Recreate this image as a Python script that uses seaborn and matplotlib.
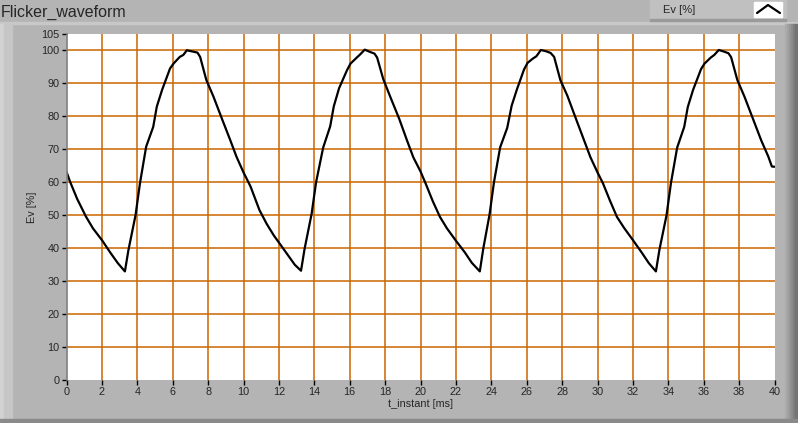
import numpy as np
import pandas as pd
import matplotlib
matplotlib.use("Agg")
import matplotlib.pyplot as plt
import matplotlib.patches as mpatches
from matplotlib.lines import Line2D
import seaborn as sns

# waveform, four periods of ~10 ms
t_ms = [0.0, 0.2, 0.6, 1.1, 1.5, 2.0, 2.5, 2.9, 3.3, 3.5, 3.9, 4.15, 4.5, 4.9, 5.1, 5.4, 5.85, 6.05, 6.4, 6.6, 6.8, 7.15, 7.4, 7.55, 7.9, 8.3, 8.8, 9.25, 9.6,
        10.0, 10.4, 10.9, 11.3, 11.7, 12.1, 12.5, 12.9, 13.25, 13.45, 13.85, 14.1, 14.5, 14.9, 15.1, 15.4, 15.85, 16.05, 16.4, 16.6, 16.85, 17.15, 17.4, 17.55, 17.9, 18.3, 18.8, 19.25, 19.6,
        20.0, 20.3, 20.7, 21.1, 21.5, 22.0, 22.5, 22.9, 23.35, 23.55, 23.9, 24.15, 24.5, 24.9, 25.15, 25.45, 25.85, 26.05, 26.35, 26.55, 26.8, 27.1, 27.35, 27.55, 27.9, 28.3, 28.8, 29.25, 29.6,
        30.0, 30.3, 30.7, 31.1, 31.5, 32.0, 32.5, 32.9, 33.3, 33.5, 33.9, 34.15, 34.5, 34.9, 35.1, 35.4, 35.85, 36.05, 36.4, 36.6, 36.85, 37.15, 37.4, 37.55, 37.9, 38.3, 38.8, 39.25, 39.65, 39.85, 40.0]
ev_pct = [63.2, 60.2, 55.0, 49.6, 46.0, 42.5, 38.5, 35.5, 33.0, 39.5, 50.0, 59.7, 70.8, 76.8, 82.9, 88.0, 94.5, 96.0, 98.0, 98.6, 100.0, 99.6, 99.3, 98.0, 91.0, 86.0, 79.0, 72.8, 67.8,
          63.0, 58.7, 51.6, 47.5, 44.0, 41.0, 38.0, 35.0, 33.2, 39.8, 50.5, 60.0, 70.5, 77.0, 83.0, 88.5, 94.0, 96.0, 97.8, 98.8, 100.2, 99.5, 99.0, 97.8, 91.2, 85.8, 79.2, 72.5, 67.5,
          63.3, 59.5, 54.2, 49.5, 46.0, 42.3, 38.8, 35.6, 33.0, 40.0, 50.2, 60.0, 70.6, 76.5, 83.2, 88.2, 94.2, 96.2, 97.5, 98.2, 100.1, 99.7, 99.2, 98.0, 91.0, 86.2, 79.0, 72.6, 67.6,
          63.0, 59.8, 54.5, 49.5, 46.2, 42.5, 38.7, 35.5, 33.0, 39.6, 50.0, 59.8, 70.5, 76.8, 82.8, 88.0, 94.3, 96.0, 97.8, 98.6, 100.1, 99.6, 99.1, 97.9, 91.0, 86.0, 79.0, 72.7, 67.8, 64.8, 64.7]

x_ticks = list(range(0, 41, 2))
y_ticks = [0, 10, 20, 30, 40, 50, 60, 70, 80, 90, 100, 105]

df = pd.DataFrame({"t_instant [ms]": t_ms, "Ev [%]": ev_pct})

sns.set_style("white")
plt.rcParams["font.family"] = ["Liberation Sans", "DejaVu Sans"]

W, H = 798, 423
fig = plt.figure(figsize=(W / 100, H / 100), dpi=100)
fig.patch.set_facecolor("#b4b4b4")

# panel decoration (LabVIEW-like frame)
def px_rect(x0, y0, x1, y1, color):
    fig.patches.append(mpatches.Rectangle((x0 / W, 1 - y1 / H), (x1 - x0) / W, (y1 - y0) / H,
                                          transform=fig.transFigure, color=color, zorder=0))

px_rect(0, 22, W, 24, "#c8c8c8")
px_rect(0, 24, 4, H, "#d2d2d2")
px_rect(4, 24, 12, H, "#c6c6c6")
for i, c in enumerate(["#acacac", "#a2a2a2", "#989898", "#8c8c8c", "#808080", "#747474"]):
    px_rect(785 + i * 2, 24, 787 + i * 2, H, c)
px_rect(0, 419, W, H, "#8a8a8a")
# legend box
px_rect(650, 0, 786, 20, "#c0c0c0")
px_rect(650, 19, 786, 21, "#9a9a9a")
px_rect(754, 2, 782, 17, "white")

ax = fig.add_axes([66.5 / W, 1 - 380.3 / H, 708 / W, (380.3 - 33.8) / H])
ax.set_facecolor("white")

sns.lineplot(data=df, x="t_instant [ms]", y="Ev [%]", ax=ax, color="black", lw=1.6, sort=False)

ax.set_xlim(0, 40)
ax.set_ylim(0, 105)
ax.set_xticks(x_ticks)
ax.set_yticks(y_ticks)
ax.grid(True, color="#cc6600", lw=1.1)
for gl in [ax.xaxis.get_gridlines()[0], ax.xaxis.get_gridlines()[-1],
           ax.yaxis.get_gridlines()[0], ax.yaxis.get_gridlines()[-1]]:
    gl.set_visible(False)

for s in ["top", "right", "bottom"]:
    ax.spines[s].set_visible(False)
ax.spines["left"].set_color("#808080")
ax.spines["left"].set_linewidth(1.2)

ax.tick_params(axis="both", direction="out", length=3.5, width=1, color="black",
               labelsize=7.8, pad=1.5, bottom=True, left=True)
ax.set_xlabel("t_instant [ms]", fontsize=7.8, labelpad=1)
ax.set_ylabel("Ev [%]", fontsize=7.8, labelpad=3)

fig.text(1 / W, 1 - 12 / H, "Flicker_waveform", fontsize=11.5, va="center", ha="left")
fig.text(663 / W, 1 - 10 / H, "Ev [%]", fontsize=8, va="center", ha="left")
fig.lines.append(Line2D([757 / W, 768 / W, 780 / W], [1 - 13 / H, 1 - 5 / H, 1 - 13 / H],
                        transform=fig.transFigure, color="black", lw=1.6))

fig.savefig("out.png", dpi=100, facecolor=fig.get_facecolor())
